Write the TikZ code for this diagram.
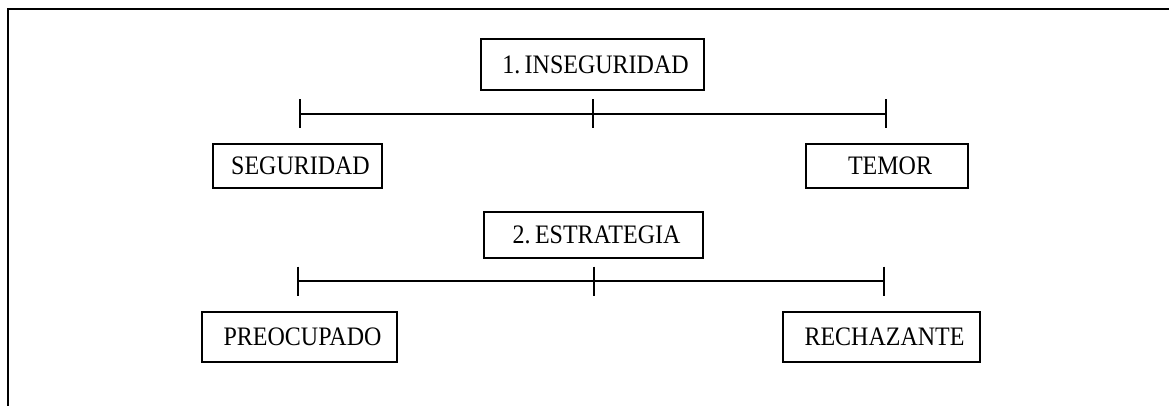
\documentclass[tikz,border=0pt]{standalone}
\usepackage{fontspec}
\setmainfont{Liberation Serif}
\newfontfamily\boxfont[FakeStretch=0.9]{Liberation Serif}
\begin{document}
\begin{tikzpicture}[x=0.75pt,y=-0.75pt,
  box/.style={draw,line width=1.8pt,rectangle,inner sep=0pt,
    font=\boxfont\fontsize{20}{22}\selectfont,
    execute at begin node=\hspace*{4.5pt}},
  bar/.style={line width=1.8pt},
  tick/.style={line width=1.8pt}]
\useasboundingbox (0,0) rectangle (1169,406);
% outer frame (clipped at right and bottom)
\draw[line width=2.2pt] (8,406) -- (8,9) -- (1169,9);
% boxes
\node[box,minimum width=223*0.75pt,minimum height=51*0.75pt] (ins) at (592.5,64.5) {1.\,INSEGURIDAD};
\node[box,minimum width=169*0.75pt,minimum height=44*0.75pt] (seg) at (297.5,166) {SEGURIDAD};
\node[box,minimum width=162*0.75pt,minimum height=44*0.75pt] (tem) at (887,166) {TEMOR};
\node[box,minimum width=219*0.75pt,minimum height=46*0.75pt] (est) at (593.5,235) {2.\,ESTRATEGIA};
\node[box,minimum width=195*0.75pt,minimum height=50*0.75pt] (pre) at (299.5,337) {PREOCUPADO};
\node[box,minimum width=197*0.75pt,minimum height=50*0.75pt] (rec) at (881.5,337) {RECHAZANTE};
% scale 1
\coordinate (a1) at (300,114);
\coordinate (m1) at (593,114);
\coordinate (b1) at (886,114);
\draw[bar] (a1) -- (b1);
\foreach \p in {a1,m1,b1} \draw[tick] ([yshift=14.5*0.75pt]\p) -- ([yshift=-14.5*0.75pt]\p);
% scale 2
\coordinate (a2) at (298,281);
\coordinate (m2) at (594,281);
\coordinate (b2) at (884,281);
\draw[bar] (a2) -- (b2);
\foreach \p in {a2,m2,b2} \draw[tick] ([yshift=14.5*0.75pt]\p) -- ([yshift=-14.5*0.75pt]\p);
\end{tikzpicture}
\end{document}
